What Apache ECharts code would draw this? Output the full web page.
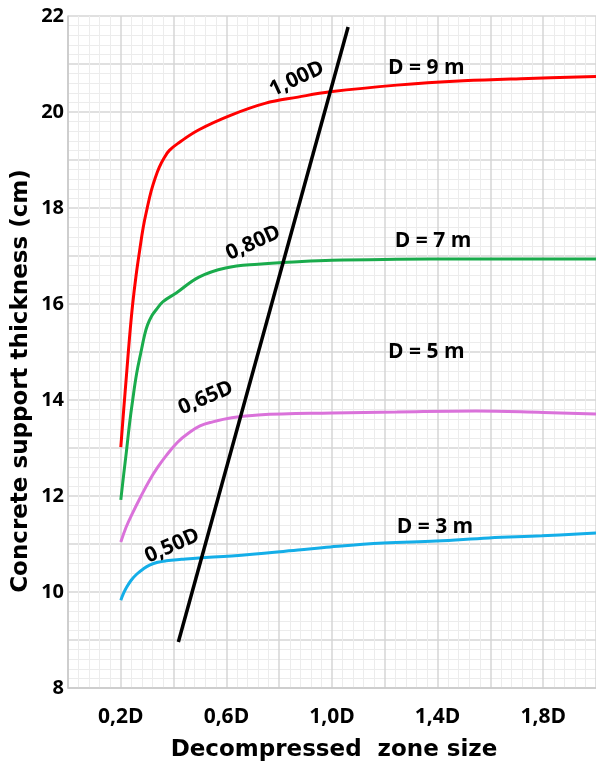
<!DOCTYPE html>
<html>
<head>
<meta charset="utf-8">
<script src="https://cdn.jsdelivr.net/npm/echarts@6/dist/echarts.min.js"></script>
<style>html,body{margin:0;padding:0;background:#fff}#c{width:596px;height:767px}</style>
</head>
<body>
<div id="c"></div>
<script>
// ---- data ----
var d9 = [[0.2,13.02],[0.211,13.8],[0.222,14.55],[0.233,15.3],[0.245,16.0],[0.258,16.6],[0.271,17.1],[0.285,17.6],[0.3,18.0],[0.315,18.35],[0.33,18.62],[0.346,18.85],[0.365,19.05],[0.384,19.2],[0.42,19.36],[0.496,19.63],[0.62,19.94],[0.746,20.18],[0.871,20.31],[0.994,20.42],[1.245,20.56],[1.496,20.65],[1.744,20.7],[2.0,20.74]];
var d7 = [[0.2,11.92],[0.211,12.45],[0.222,12.96],[0.233,13.5],[0.245,14.0],[0.26,14.55],[0.278,15.04],[0.29,15.35],[0.301,15.56],[0.317,15.75],[0.334,15.88],[0.36,16.05],[0.41,16.23],[0.496,16.56],[0.597,16.75],[0.72,16.83],[0.871,16.88],[1.0,16.91],[1.245,16.93],[1.5,16.94],[2.0,16.94]];
var d5 = [[0.2,11.04],[0.22,11.35],[0.245,11.65],[0.275,11.98],[0.309,12.33],[0.34,12.6],[0.372,12.84],[0.415,13.12],[0.459,13.32],[0.5,13.46],[0.545,13.54],[0.62,13.63],[0.72,13.69],[1.0,13.73],[1.245,13.75],[1.545,13.77],[1.8,13.74],[2.0,13.71]];
var d3 = [[0.2,9.83],[0.211,9.98],[0.222,10.1],[0.24,10.25],[0.26,10.37],[0.285,10.48],[0.309,10.56],[0.34,10.62],[0.372,10.65],[0.43,10.68],[0.496,10.71],[0.62,10.75],[0.871,10.875],[0.994,10.94],[1.195,11.02],[1.395,11.06],[1.594,11.125],[1.795,11.17],[2.0,11.23]];
var optimumLine = [[0.418,8.96],[1.061,21.77]];

var xTickValues = [0.2, 0.6, 1.0, 1.4, 1.8];
var xTickTexts = ['0,2D', '0,6D', '1,0D', '1,4D', '1,8D'];
var yTickValues = [8, 10, 12, 14, 16, 18, 20, 22];

var annoTexts = ['1,00D', '0,80D', '0,65D', '0,50D', 'D = 9 m', 'D = 7 m', 'D = 5 m', 'D = 3 m'];
var annoX = [0.867, 0.702, 0.522, 0.395, 1.357, 1.383, 1.357, 1.39];
var annoY = [20.69, 17.27, 14.04, 10.96, 20.92, 17.31, 15.0, 11.35];
var annoAngle = [25, 24, 23, 24, 0, 0, 0, 0];

// ---- chart ----
var chart = echarts.init(document.getElementById('c'), null, {renderer: 'canvas'});
var annoData = annoTexts.map(function (t, i) {
  return {name: t, value: [annoX[i], annoY[i]], label: {rotate: annoAngle[i]}};
});
function lineSeries(data, color) {
  return {type: 'line', data: data, showSymbol: false, smooth: 0.4,
    lineStyle: {color: color, width: 3}, silent: true, z: 3};
}
var tickFont = {fontFamily: 'Open Sans', fontSize: 21, color: '#000', fontWeight: 'bold'};
chart.setOption({
  animation: false,
  backgroundColor: '#fff',
  grid: {left: 68, top: 16, bottom: 79, right: -6, containLabel: false},
  xAxis: {
    type: 'value', min: 0, max: 2, interval: 0.2,
    axisLine: {show: true, lineStyle: {color: '#c8c8c8', width: 1.5}},
    axisTick: {show: false},
    axisLabel: Object.assign({margin: 19, showMaxLabel: false, formatter: function (v) {
      for (var i = 0; i < xTickValues.length; i++) if (Math.abs(v - xTickValues[i]) < 1e-6) return xTickTexts[i];
      return '';
    }}, tickFont),
    splitLine: {show: true, lineStyle: {color: '#d6d6d6', width: 1.5}},
    minorTick: {show: true, splitNumber: 5, length: 0},
    minorSplitLine: {show: true, lineStyle: {color: '#ececec', width: 1}}
  },
  yAxis: {
    type: 'value', min: 8, max: 22, interval: 1,
    axisLine: {show: true, lineStyle: {color: '#c8c8c8', width: 1.5}},
    axisTick: {show: false},
    axisLabel: Object.assign({margin: 4, formatter: function (v) {
      return yTickValues.indexOf(v) >= 0 ? String(v) : '';
    }}, tickFont, {fontSize: 20}),
    splitLine: {show: true, lineStyle: {color: '#d6d6d6', width: 1.5}},
    minorTick: {show: true, splitNumber: 5, length: 0},
    minorSplitLine: {show: true, lineStyle: {color: '#ececec', width: 1}}
  },
  series: [
    lineSeries(d9, '#ff0000'),
    lineSeries(d7, '#1aab4c'),
    lineSeries(d5, '#da72da'),
    lineSeries(d3, '#14aee8'),
    {type: 'line', data: optimumLine, showSymbol: false, lineStyle: {color: '#000', width: 3.5}, silent: true, z: 4},
    {type: 'scatter', data: annoData, symbolSize: 0, itemStyle: {color: 'rgba(0,0,0,0)'}, silent: true, z: 5,
      label: {show: true, position: 'inside', formatter: function (p) { return p.name; },
        fontFamily: 'Open Sans', fontSize: 21, color: '#000', fontWeight: 'bold', opacity: 1}}
  ],
  graphic: [
    {type: 'text', x: 21, y: 381, rotation: Math.PI / 2,
      style: {text: 'Concrete support thickness (cm)', font: 'bold 23px "DejaVu Sans"', fill: '#000', align: 'center', verticalAlign: 'middle'}},
    {type: 'text', x: 334, y: 750,
      style: {text: 'Decompressed  zone size', font: 'bold 23px "DejaVu Sans"', fill: '#000', align: 'center', verticalAlign: 'middle'}}
  ]
});
</script>
</body>
</html>
